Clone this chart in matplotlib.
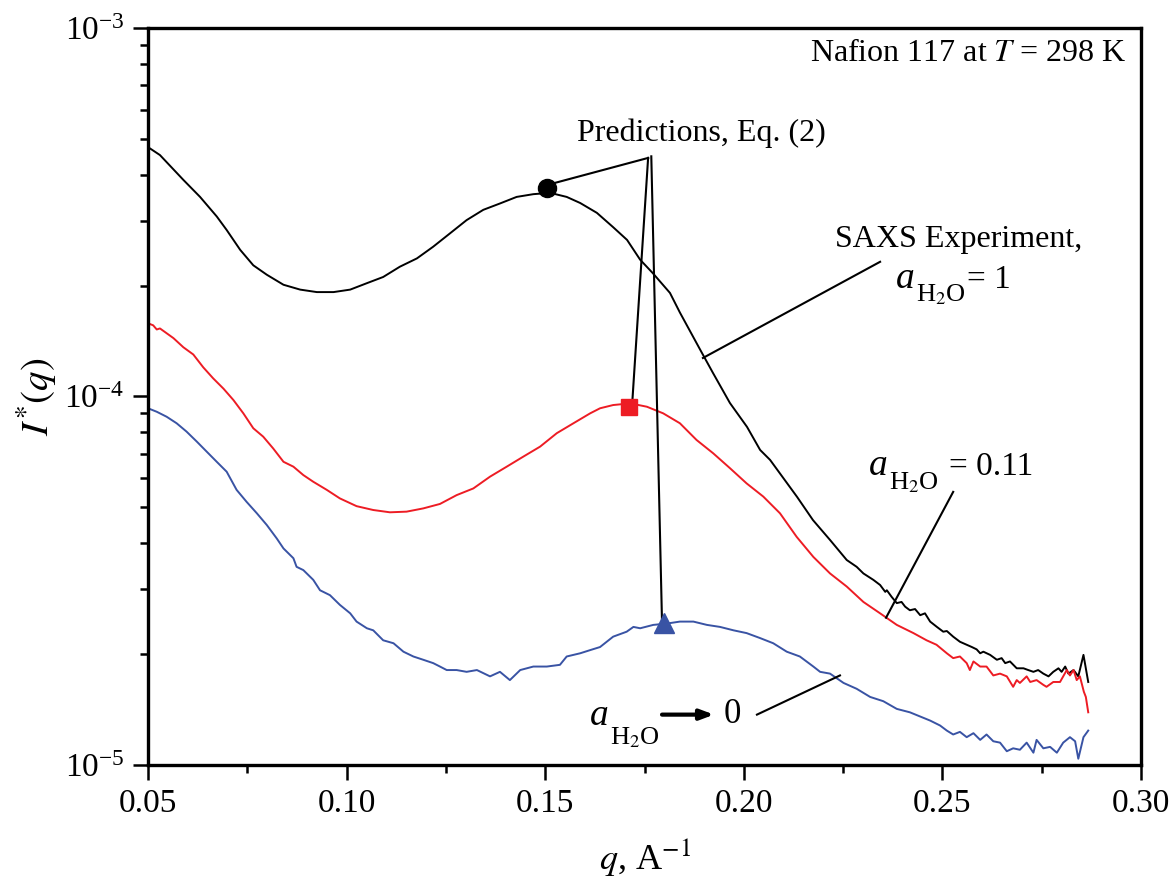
import numpy as np
import matplotlib
matplotlib.use('Agg')
import matplotlib.pyplot as plt
from matplotlib.ticker import LogLocator, MultipleLocator, FixedLocator
from matplotlib.transforms import IdentityTransform

plt.rcParams['font.family'] = ['Liberation Serif', 'DejaVu Serif']
plt.rcParams['mathtext.fontset'] = 'stix'

# SAXS curves: q in 1/A, I*(q) in units of 1e-5
q_wet = [0.0500, 0.0530, 0.0589, 0.0631, 0.0673, 0.0698, 0.0732, 0.0765, 0.0799, 0.0841,
         0.0883, 0.0925, 0.0967, 0.1009, 0.1051, 0.1092, 0.1134, 0.1177, 0.1218, 0.1260,
         0.1302, 0.1344, 0.1386, 0.1428, 0.1470, 0.1512, 0.1554, 0.1588,
         0.1630, 0.1671, 0.1706, 0.1739, 0.1771, 0.1814, 0.1839, 0.1890, 0.1922, 0.1965,
         0.2008, 0.2041, 0.2066, 0.2134, 0.2174, 0.2217, 0.2259, 0.2284, 0.2301, 0.2326,
         0.2343, 0.2356, 0.2360, 0.2372, 0.2385, 0.2397, 0.2406, 0.2418, 0.2431, 0.2444,
         0.2456, 0.2469, 0.2486, 0.2502, 0.2511, 0.2527, 0.2544, 0.2561, 0.2574, 0.2586,
         0.2595, 0.2603, 0.2620, 0.2637, 0.2649, 0.2658, 0.2670, 0.2687, 0.2704, 0.2716,
         0.2729, 0.2741, 0.2754, 0.2767, 0.2779, 0.2792, 0.2800, 0.2809, 0.2817, 0.2830,
         0.2842, 0.2855, 0.2867]
I_wet = [47.5, 45.2, 38.7, 34.8, 30.8, 28.3, 25.0, 22.7, 21.4, 20.1,
         19.5, 19.2, 19.2, 19.5, 20.3, 21.1, 22.5, 23.7, 25.5, 27.7,
         30.1, 32.1, 33.4, 34.8, 35.4, 35.7, 34.8, 33.5,
         31.5, 28.8, 26.6, 23.5, 21.6, 19.1, 16.9, 13.4, 11.6, 9.60,
         8.27, 7.16, 6.73, 5.34, 4.62, 4.08, 3.60, 3.45, 3.31, 3.18,
         3.08, 2.95, 2.98, 2.86, 2.75, 2.77, 2.69, 2.63, 2.65, 2.55,
         2.58, 2.45, 2.37, 2.30, 2.31, 2.23, 2.16, 2.12, 2.09, 2.06,
         2.01, 2.03, 1.99, 1.93, 1.95, 1.89, 1.91, 1.83, 1.83, 1.81,
         1.79, 1.81, 1.77, 1.74, 1.79, 1.83, 1.79, 1.85, 1.77, 1.81,
         1.74, 1.99, 1.68]

q_mid = [0.0500, 0.0513, 0.0522, 0.0530, 0.0564, 0.0589, 0.0614, 0.0639, 0.0664, 0.0690,
         0.0715, 0.0740, 0.0765, 0.0790, 0.0815, 0.0841, 0.0866, 0.0891, 0.0916, 0.0950,
         0.0983, 0.1025, 0.1067, 0.1109, 0.1151, 0.1193, 0.1235, 0.1277, 0.1319, 0.1361,
         0.1403, 0.1445, 0.1487, 0.1529, 0.1571, 0.1613, 0.1638, 0.1671, 0.1714, 0.1756,
         0.1797, 0.1839, 0.1881, 0.1923, 0.1965, 0.2007, 0.2049, 0.2091, 0.2133, 0.2175,
         0.2217, 0.2259, 0.2301, 0.2343, 0.2385, 0.2427, 0.2460, 0.2485, 0.2511, 0.2527,
         0.2544, 0.2561, 0.2569, 0.2578, 0.2595, 0.2611, 0.2628, 0.2645, 0.2662, 0.2678,
         0.2687, 0.2695, 0.2712, 0.2721, 0.2737, 0.2754, 0.2762, 0.2779, 0.2796, 0.2813,
         0.2821, 0.2830, 0.2838, 0.2846, 0.2856, 0.2861, 0.2867]
I_mid = [15.8, 15.6, 15.2, 15.3, 14.4, 13.6, 13.0, 12.0, 11.2, 10.5,
         9.78, 9.00, 8.20, 7.78, 7.23, 6.65, 6.45, 6.12, 5.87, 5.58,
         5.29, 5.04, 4.92, 4.85, 4.87, 4.97, 5.11, 5.40, 5.63, 6.06,
         6.45, 6.87, 7.31, 7.95, 8.46, 9.00, 9.29, 9.48, 9.58, 9.38,
         9.00, 8.46, 7.62, 7.01, 6.39, 5.81, 5.35, 4.82, 4.16, 3.67,
         3.31, 3.05, 2.77, 2.58, 2.40, 2.28, 2.18, 2.12, 2.01, 1.95,
         1.97, 1.89, 1.81, 1.91, 1.85, 1.85, 1.75, 1.77, 1.74, 1.63,
         1.70, 1.67, 1.74, 1.68, 1.70, 1.65, 1.63, 1.68, 1.68, 1.81,
         1.75, 1.81, 1.70, 1.74, 1.58, 1.53, 1.39]

q_dry = [0.0500, 0.0522, 0.0547, 0.0572, 0.0597, 0.0623, 0.0648, 0.0673, 0.0698, 0.0723,
         0.0748, 0.0774, 0.0799, 0.0824, 0.0841, 0.0866, 0.0874, 0.0891, 0.0916, 0.0933,
         0.0958, 0.0983, 0.1009, 0.1025, 0.1051, 0.1067, 0.1092, 0.1118, 0.1143, 0.1168,
         0.1193, 0.1218, 0.1235, 0.1252, 0.1277, 0.1302, 0.1328, 0.1361, 0.1386, 0.1411,
         0.1437, 0.1470, 0.1504, 0.1537, 0.1554, 0.1588, 0.1613, 0.1638, 0.1671, 0.1705,
         0.1722, 0.1739, 0.1772, 0.1806, 0.1839, 0.1873, 0.1907, 0.1940, 0.1974, 0.2007,
         0.2041, 0.2074, 0.2108, 0.2141, 0.2175, 0.2192, 0.2217, 0.2251, 0.2284, 0.2318,
         0.2351, 0.2385, 0.2418, 0.2469, 0.2494, 0.2511, 0.2527, 0.2544, 0.2561, 0.2578,
         0.2595, 0.2611, 0.2628, 0.2645, 0.2662, 0.2678, 0.2695, 0.2712, 0.2729, 0.2737,
         0.2754, 0.2771, 0.2788, 0.2804, 0.2821, 0.2834, 0.2842, 0.2855, 0.2867]
I_dry = [9.29, 9.09, 8.81, 8.46, 8.03, 7.54, 7.08, 6.65, 6.25, 5.58,
         5.18, 4.82, 4.48, 4.12, 3.87, 3.64, 3.45, 3.38, 3.18, 2.98,
         2.89, 2.72, 2.58, 2.45, 2.35, 2.32, 2.18, 2.14, 2.03, 1.97,
         1.93, 1.89, 1.85, 1.81, 1.81, 1.79, 1.81, 1.74, 1.79, 1.70,
         1.81, 1.85, 1.85, 1.87, 1.97, 2.01, 2.05, 2.09, 2.23, 2.30,
         2.37, 2.35, 2.40, 2.42, 2.45, 2.45, 2.40, 2.37, 2.32, 2.28,
         2.21, 2.14, 2.03, 1.97, 1.85, 1.79, 1.77, 1.67, 1.61, 1.53,
         1.49, 1.42, 1.39, 1.32, 1.28, 1.24, 1.21, 1.23, 1.19, 1.22,
         1.17, 1.21, 1.16, 1.15, 1.09, 1.11, 1.10, 1.15, 1.08, 1.17,
         1.11, 1.12, 1.08, 1.15, 1.19, 1.16, 1.04, 1.19, 1.24]

# Eq. (2) predictions (peak positions), I in units of 1e-5
pred_q = [0.1505, 0.1711, 0.1799]
pred_I = [36.8, 9.37, 2.43]

unit = 1e-5
red = '#ED1C24'
blue = '#3953A4'

fig = plt.figure(figsize=(11.72, 8.88), dpi=100)
ax = fig.add_axes([0.1263, 0.1385, 0.8473, 0.8300])

ax.plot(q_wet, np.array(I_wet) * unit, color='black', lw=1.4)
ax.plot(q_mid, np.array(I_mid) * unit, color=red, lw=1.4)
ax.plot(q_dry, np.array(I_dry) * unit, color=blue, lw=1.4)

ax.plot(pred_q[0], pred_I[0] * unit, 'o', color='black', ms=13, zorder=5)
ax.plot(pred_q[1], pred_I[1] * unit, 's', color=red, ms=12, zorder=5)
ax.plot(pred_q[2], pred_I[2] * unit, '^', color=blue, ms=15, zorder=5)

ax.set_yscale('log')
ax.set_xlim(0.05, 0.30)
ax.set_ylim(1e-5, 1e-3)

ax.xaxis.set_major_locator(MultipleLocator(0.05))
ax.xaxis.set_minor_locator(MultipleLocator(0.025))
ax.set_xticklabels([f'{v:.2f}' for v in ax.get_xticks()])
ax.yaxis.set_major_locator(FixedLocator([1e-5, 1e-4, 1e-3]))
ax.yaxis.set_minor_locator(LogLocator(base=10, subs=np.arange(2, 10)))

ax.tick_params(which='both', direction='out', top=False, right=False, width=1.8)
ax.tick_params(which='major', length=11, labelsize=24, pad=6)
ax.tick_params(which='minor', length=6)
for s in ax.spines.values():
    s.set_linewidth(2.4)

ax.set_xlabel(r'$q$, A$^{-1}$', fontsize=26, labelpad=12)
ax.set_ylabel(r'$I^{*}(q)$', fontsize=28, labelpad=4)

# annotation leader lines (data coords)
vertex = (0.1759, 4.44e-4)
ax.plot([0.1525, vertex[0]], [3.80e-4, vertex[1]], color='black', lw=1.5)
ax.plot([0.1719, vertex[0]], [9.60e-5, vertex[1]], color='black', lw=1.5)
ax.plot([0.1794, vertex[0] + 0.0008], [2.44e-5, vertex[1] * 1.01], color='black', lw=1.5)
ax.plot([0.1897, 0.2343], [1.272e-4, 2.32e-4], color='black', lw=1.5)
ax.plot([0.2358, 0.2527], [2.51e-5, 5.51e-5], color='black', lw=1.5)
ax.plot([0.2033, 0.2242], [1.37e-5, 1.75e-5], color='black', lw=1.5)

ax.text(0.985, 0.966, r'Nafion 117 at $T$ = 298 K', transform=ax.transAxes,
        ha='right', va='center', fontsize=23)
ax.text(0.557, 0.8575, 'Predictions, Eq. (2)', transform=ax.transAxes,
        ha='center', va='center', fontsize=23)
ax.text(0.816, 0.703, 'SAXS Experiment,', transform=ax.transAxes,
        ha='center', va='baseline', fontsize=23)

renderer = fig.canvas.get_renderer()


def water_label(x, y, rest='', gap=2, drop=13):
    # italic a with a full-looking H2O subscript, then the rest of the label
    x0, y0 = ax.transAxes.transform((x, y))
    t = ax.text(x0, y0, 'a', transform=IdentityTransform(), fontsize=27,
                style='italic', va='baseline', ha='left')
    bb = t.get_window_extent(renderer)
    t2 = ax.text(bb.x1 + 1, y0 - drop, r'H$_2$O', transform=IdentityTransform(),
                 fontsize=19, va='baseline', ha='left')
    bb2 = t2.get_window_extent(renderer)
    if rest:
        ax.text(bb2.x1 + gap, y0, rest, transform=IdentityTransform(),
                fontsize=24, va='baseline', ha='left')


water_label(0.753, 0.647, '= 1', gap=2, drop=13)
water_label(0.726, 0.3935, '= 0.11', gap=10, drop=14)
water_label(0.445, 0.0543, drop=19)

ax.annotate('', xy=(0.1932, 1.37e-5), xytext=(0.1787, 1.37e-5),
            arrowprops=dict(arrowstyle='-|>,head_length=0.8,head_width=0.3',
                            color='black', lw=3))
ax.text(0.1950, 1.37e-5, '0', ha='left', va='center', fontsize=25)

fig.savefig('out.png', dpi=100)
